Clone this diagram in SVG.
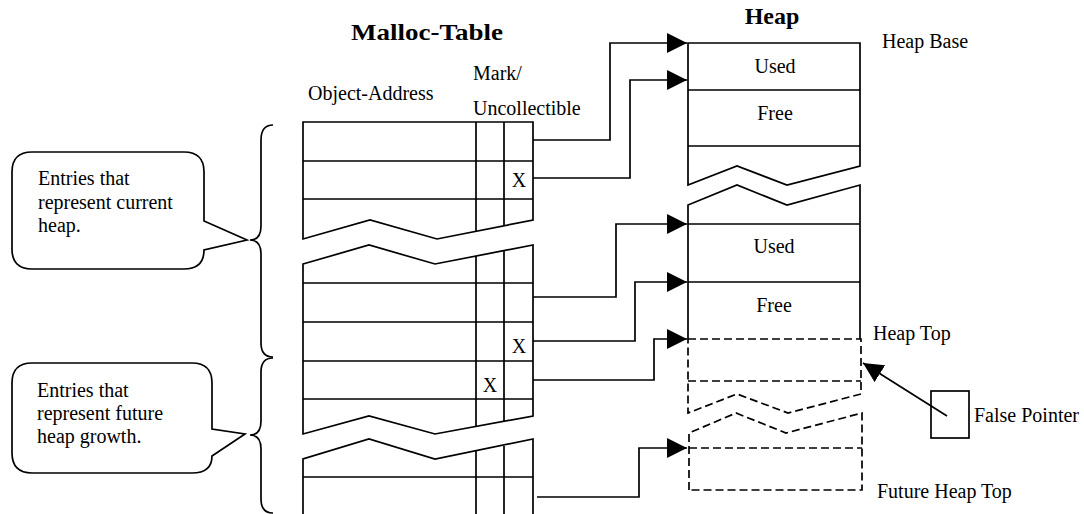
<svg xmlns="http://www.w3.org/2000/svg" width="1084" height="514" viewBox="0 0 1084 514">
<style>
.ln{fill:none;stroke:#000;stroke-width:1.7;stroke-linejoin:miter}
.dsh{fill:none;stroke:#000;stroke-width:1.7;stroke-dasharray:8 4}
.tx{font-family:"Liberation Serif","Times New Roman",serif;font-size:20px;fill:#000}
.tb{font-family:"Liberation Serif","Times New Roman",serif;font-size:24px;font-weight:bold;fill:#000}
.mid{text-anchor:middle}
</style>
<defs>
<marker id="arr" markerUnits="userSpaceOnUse" markerWidth="21" markerHeight="20" refX="20" refY="10" orient="auto">
<path d="M0,0 L20,10 L0,20 Z" fill="#000"/>
</marker>
</defs>
<rect width="1084" height="514" fill="#fff"/>

<g id="titles">
<text class="tb" x="351" y="40" textLength="152" lengthAdjust="spacingAndGlyphs">Malloc-Table</text>
<text class="tb mid" x="772" y="24">Heap</text>
<text class="tx" x="308" y="100">Object-Address</text>
<text class="tx" x="473" y="80">Mark/</text>
<text class="tx" x="473" y="115">Uncollectible</text>
<text class="tx" x="882" y="48">Heap Base</text>
<text class="tx" x="873" y="340">Heap Top</text>
<text class="tx" x="877" y="498">Future Heap Top</text>
</g>

<g id="table-seg1">
<path class="ln" d="M303,122 H533 V220 L437,239 L370,220 L303,239 Z"/>
<path class="ln" d="M303,161 H533 M303,199 H533 M476,122 V231 M504,122 V226"/>
<text class="tx mid" x="519" y="187">X</text>
</g>

<g id="table-seg2">
<path class="ln" d="M303,264 L369,245 L435,264 L533,245 V416 L435,434 L369,416 L303,434 Z"/>
<path class="ln" d="M303,283 H533 M303,322 H533 M303,361 H533 M303,399 H533 M476,256 V426 M504,251 V421"/>
<text class="tx mid" x="519" y="353">X</text>
<text class="tx mid" x="490" y="392">X</text>
</g>

<g id="table-seg3">
<path class="ln" d="M303,514 V459 L369,439 L435,459 L533,439 V514"/>
<path class="ln" d="M303,477 H533 M476,451 V514 M504,446 V514"/>
</g>

<g id="heap-seg1">
<path class="ln" d="M688,43 H860 V166 L787,185 L737,166 L688,185 Z"/>
<path class="ln" d="M688,90 H860 M688,146 H860"/>
<text class="tx mid" x="775" y="73">Used</text>
<text class="tx mid" x="775" y="120">Free</text>
</g>

<g id="heap-seg2">
<path class="ln" d="M688,339 V205 L737,185 L787,205 L860,185 V339"/>
<path class="ln" d="M688,224 H860 M688,282 H860"/>
<text class="tx mid" x="774" y="253">Used</text>
<text class="tx mid" x="774" y="312">Free</text>
</g>

<g id="heap-future">
<path class="dsh" d="M688,339 H861 V394 L788,413 L737,394 L688,413 Z"/>
<path class="dsh" d="M688,381 H861"/>
<path class="dsh" d="M689,490 V433 L736,413 L786,433 L862,413 V490 Z"/>
<path class="dsh" d="M689,448 H862"/>
</g>

<g id="false-pointer">
<rect class="ln" x="931" y="391" width="38" height="47"/>
<text class="tx" x="974" y="422">False Pointer</text>
</g>

<g id="callout-current">
<path class="ln" d="M32,152 H184 Q204,152 204,172 V221 L247,240 L204,250 Q204,269 184,269 H32 Q12,269 12,249 V172 Q12,152 32,152 Z"/>
<text class="tx" x="38" y="185">Entries that</text>
<text class="tx" x="38" y="209">represent current</text>
<text class="tx" x="38" y="232">heap.</text>
</g>

<g id="callout-future">
<path class="ln" d="M32,363 H192 Q212,363 212,383 V429 L245,434 L212,456 Q212,473 192,473 H32 Q12,473 12,453 V383 Q12,363 32,363 Z"/>
<text class="tx" x="37" y="397">Entries that</text>
<text class="tx" x="37" y="420">represent future</text>
<text class="tx" x="37" y="443">heap growth.</text>
</g>

<g id="braces">
<path class="ln" d="M273,125 Q261,125 261,140 V226 Q261,240 250,240 Q261,240 261,254 V343 Q261,357 273,357"/>
<path class="ln" d="M273,358 Q261,358 261,372 V421 Q261,435 250,435 Q261,435 261,449 V499 Q261,513 273,513"/>
</g>

<g id="connectors">
<path class="ln" d="M533,140 H610 V43 H687" marker-end="url(#arr)"/>
<path class="ln" d="M533,178 H630 V80 H687" marker-end="url(#arr)"/>
<path class="ln" d="M533,297 H616 V224 H687" marker-end="url(#arr)"/>
<path class="ln" d="M533,341 H635 V282 H687" marker-end="url(#arr)"/>
<path class="ln" d="M533,380 H654 V339 H687" marker-end="url(#arr)"/>
<path class="ln" d="M537,497 H639 V448 H687" marker-end="url(#arr)"/>
<path class="ln" d="M947,416 L863,363" marker-end="url(#arr)"/>
</g>
</svg>
